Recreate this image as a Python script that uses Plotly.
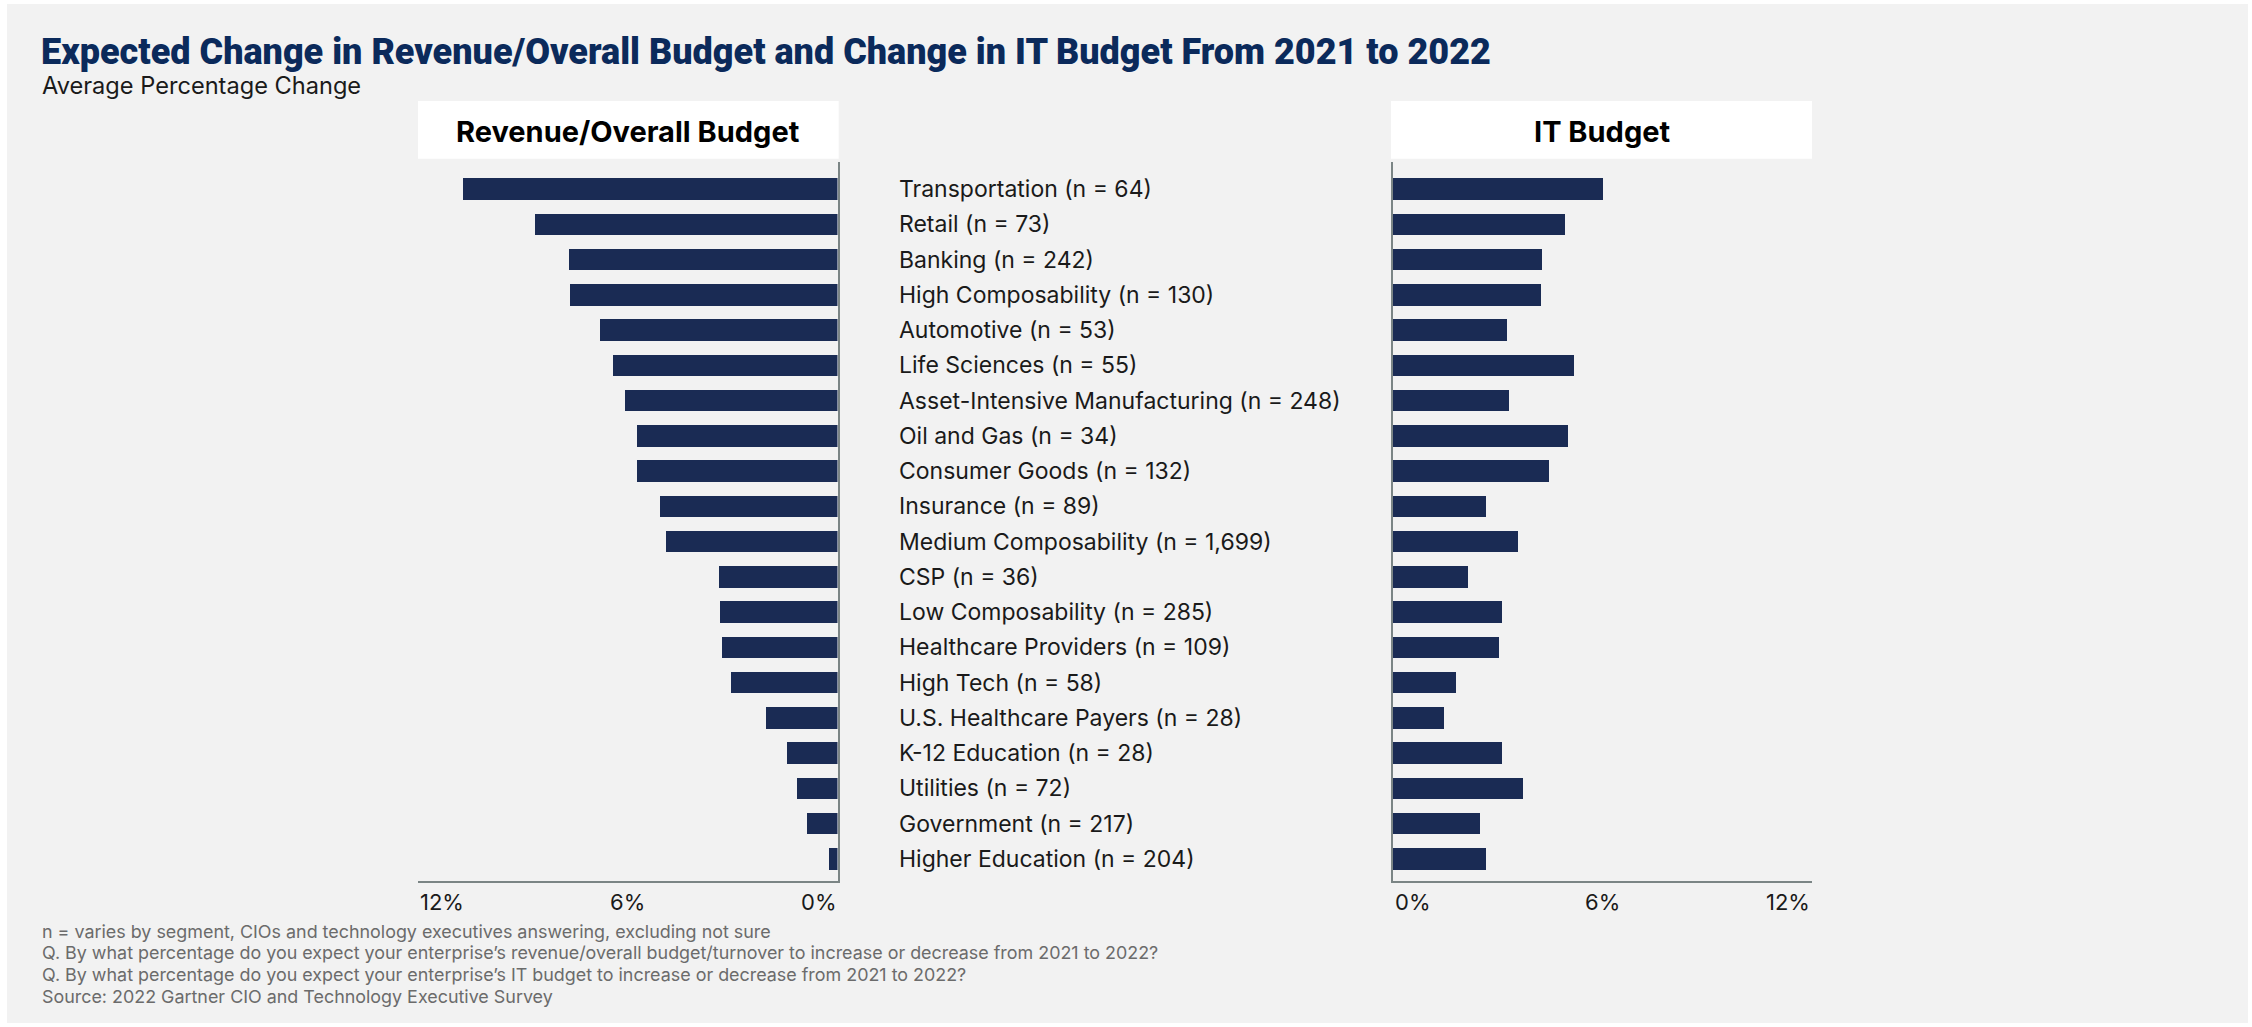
import plotly.graph_objects as go

# Segment labels, top to bottom
categories = [
    "Transportation (n = 64)",
    "Retail (n = 73)",
    "Banking (n = 242)",
    "High Composability (n = 130)",
    "Automotive (n = 53)",
    "Life Sciences (n = 55)",
    "Asset-Intensive Manufacturing (n = 248)",
    "Oil and Gas (n = 34)",
    "Consumer Goods (n = 132)",
    "Insurance (n = 89)",
    "Medium Composability (n = 1,699)",
    "CSP (n = 36)",
    "Low Composability (n = 285)",
    "Healthcare Providers (n = 109)",
    "High Tech (n = 58)",
    "U.S. Healthcare Payers (n = 28)",
    "K-12 Education (n = 28)",
    "Utilities (n = 72)",
    "Government (n = 217)",
    "Higher Education (n = 204)",
]

# Average expected change, 2021 -> 2022 (%)
revenue_change = [10.7, 8.64, 7.69, 7.65, 6.78, 6.43, 6.08, 5.74, 5.74, 5.08,
                  4.91, 3.40, 3.36, 3.30, 3.05, 2.04, 1.44, 1.17, 0.88, 0.24]
it_budget_change = [6.02, 4.93, 4.27, 4.24, 3.27, 5.19, 3.33, 5.02, 4.47, 2.67,
                    3.59, 2.15, 3.13, 3.04, 1.81, 1.47, 3.13, 3.73, 2.50, 2.67]

tick_values = [0, 6, 12]
tick_labels = ["0%", "6%", "12%"]

panel_titles = ["Revenue/Overall Budget", "IT Budget"]
title = "Expected Change in Revenue/Overall Budget and Change in IT Budget From 2021 to 2022"
subtitle = "Average Percentage Change"
footnotes = [
    "n = varies by segment, CIOs and technology executives answering, excluding not sure",
    "Q. By what percentage do you expect your enterprise\u2019s revenue/overall budget/turnover to increase or decrease from 2021 to 2022?",
    "Q. By what percentage do you expect your enterprise\u2019s IT budget to increase or decrease from 2021 to 2022?",
    "Source: 2022 Gartner CIO and Technology Executive Survey",
]

W, H = 2252, 1027
BAR = "#1a2b54"
AXIS = "#7b8585"
BG = "#f2f2f2"
TEXT_FONT = "Inter"


def px(x):
    return x / W


def py(y):
    return 1 - y / H


left_dom = [px(418), px(837.5)]
right_dom = [px(1392.5), px(1811.7)]
y_dom = [py(881), py(162)]
y_range = [19.624, -0.766]

fig = go.Figure()
fig.add_trace(go.Bar(x=revenue_change, y=categories, orientation="h",
                     marker=dict(color=BAR, line=dict(width=0)), width=0.61,
                     xaxis="x", yaxis="y", hoverinfo="skip"))
fig.add_trace(go.Bar(x=it_budget_change, y=categories, orientation="h",
                     marker=dict(color=BAR, line=dict(width=0)), width=0.61,
                     xaxis="x2", yaxis="y2", hoverinfo="skip"))

common_x = dict(showgrid=False, zeroline=False, showticklabels=False, ticks="",
                showline=True, linecolor=AXIS, linewidth=2, fixedrange=True)
common_y = dict(showgrid=False, zeroline=False, showticklabels=False, ticks="",
                showline=True, linecolor=AXIS, linewidth=2, type="category",
                categoryorder="array", categoryarray=categories, range=y_range,
                domain=y_dom, fixedrange=True)

fig.update_layout(
    width=W, height=H,
    margin=dict(l=0, r=0, t=0, b=0),
    paper_bgcolor="#ffffff",
    plot_bgcolor="rgba(0,0,0,0)",
    showlegend=False,
    bargap=0,
    xaxis=dict(domain=left_dom, range=[12, 0], anchor="y", **common_x),
    yaxis=dict(anchor="x", side="right", **common_y),
    xaxis2=dict(domain=right_dom, range=[0, 12], anchor="y2", **common_x),
    yaxis2=dict(anchor="x2", side="left", **common_y),
)

shapes = [
    # page background
    dict(type="rect", xref="paper", yref="paper", x0=px(7), x1=px(2248),
         y0=py(1023), y1=py(4), fillcolor=BG, line=dict(width=0), layer="below"),
    # panel header boxes
    dict(type="rect", xref="paper", yref="paper", x0=px(418), x1=px(838.7),
         y0=py(158.7), y1=py(101), fillcolor="#ffffff", line=dict(width=0), layer="below"),
    dict(type="rect", xref="paper", yref="paper", x0=px(1391), x1=px(1812),
         y0=py(158.7), y1=py(101), fillcolor="#ffffff", line=dict(width=0), layer="below"),
]
fig.update_layout(shapes=shapes)

ann = []
ann.append(dict(text=title, xref="paper", yref="paper", x=px(39), y=py(52),
                xanchor="left", yanchor="middle", showarrow=False,
                font=dict(family="Roboto", size=36, color="#0b2a5b", weight=900)))
ann.append(dict(text=subtitle, xref="paper", yref="paper", x=px(40), y=py(86),
                xanchor="left", yanchor="middle", showarrow=False,
                font=dict(family=TEXT_FONT, size=23.6, color="#1a1a1a")))

for t, (a, b) in zip(panel_titles, [(418, 838.7), (1391, 1812)]):
    ann.append(dict(text=t, xref="paper", yref="paper", x=px((a + b) / 2), y=py(131),
                    xanchor="center", yanchor="middle", showarrow=False,
                    font=dict(family=TEXT_FONT, size=29, color="#000000", weight=700)))

for c in categories:
    ann.append(dict(text=c, xref="paper", yref="y", x=px(897), y=c,
                    xanchor="left", yanchor="middle", showarrow=False,
                    font=dict(family=TEXT_FONT, size=23, color="#1a1a1a")))

# axis tick labels, end labels tucked inside the axis span
for xr, reverse in [("x", True), ("x2", False)]:
    for v, lab in zip(tick_values, tick_labels):
        if v == 6:
            anchor = "center"
        elif (v == 12) == reverse:
            anchor = "left"
        else:
            anchor = "right"
        ann.append(dict(text=lab, xref=xr, yref="paper", x=v, y=py(902),
                        xanchor=anchor, yanchor="middle", showarrow=False,
                        font=dict(family=TEXT_FONT, size=22, color="#1a1a1a")))

for i, f in enumerate(footnotes):
    ann.append(dict(text=f, xref="paper", yref="paper", x=px(40), y=py(931 + i * 21.7),
                    xanchor="left", yanchor="middle", showarrow=False,
                    font=dict(family=TEXT_FONT, size=17.9, color="#6b6b6b")))

fig.update_layout(annotations=ann)
fig.write_html("out.html")
